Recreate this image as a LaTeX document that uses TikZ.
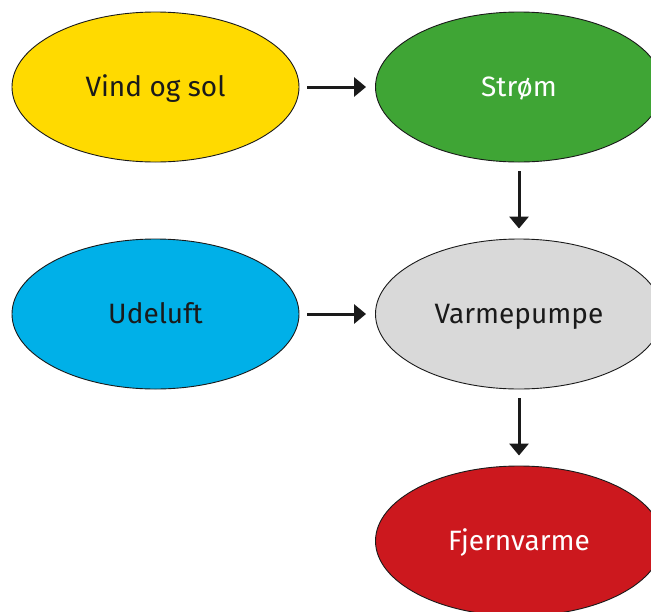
\documentclass[tikz,border=0pt]{standalone}
\usepackage{fontspec}
\setmainfont{Fira Sans}
\usetikzlibrary{shapes.geometric,arrows.meta}
\definecolor{cyellow}{HTML}{FFDA00}
\definecolor{cgreen}{HTML}{3FA535}
\definecolor{cblue}{HTML}{00B0E8}
\definecolor{cgrey}{HTML}{D9D9D9}
\definecolor{cred}{HTML}{CC181E}
\definecolor{ctext}{HTML}{1A1A1A}
\tikzset{
  blob/.style={ellipse, draw=ctext, line width=0.9pt, minimum width=287pt, minimum height=150pt, inner sep=0pt, text height=19.6pt, text depth=0pt, font=\fontsize{28}{32}\selectfont},
  flow/.style={-{Triangle[width=19pt,length=12pt]}, line width=3pt, draw=ctext},
}
\begin{document}
\begin{tikzpicture}[x=1pt,y=-1pt]
\useasboundingbox (0,0) rectangle (651,611);
\clip (0,0) rectangle (651,611);
\node[blob, fill=cyellow, text=ctext] (vind) at (155.5,87) {Vind og sol};
\node[blob, fill=cgreen, text=white] (strom) at (519,87) {Strøm};
\node[blob, fill=cblue, text=ctext] (ude) at (155.5,314) {Udeluft};
\node[blob, fill=cgrey, text=ctext] (varme) at (519,314) {Varmepumpe};
\node[blob, fill=cred, text=white] (fjern) at (519,541) {Fjernvarme};
\draw[flow, shorten <=8pt, shorten >=9pt] (vind.east) -- (strom.west);
\draw[flow, shorten <=8pt, shorten >=9pt] (ude.east) -- (varme.west);
\draw[flow, shorten <=9pt, shorten >=10pt] (strom.south) -- (varme.north);
\draw[flow, shorten <=9pt, shorten >=10pt] (varme.south) -- (fjern.north);
\end{tikzpicture}
\end{document}
